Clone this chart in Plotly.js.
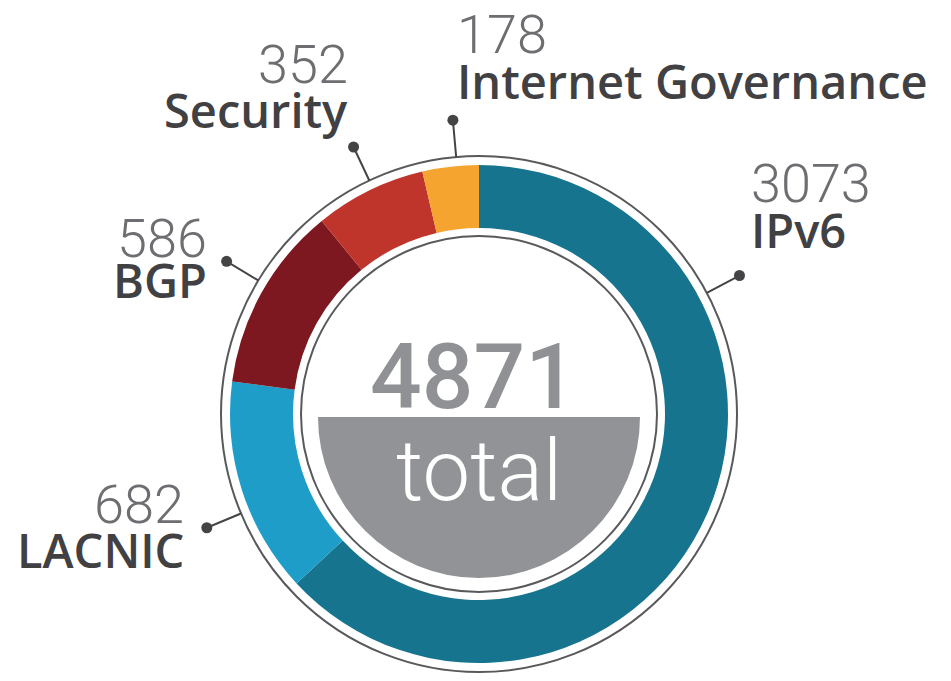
<!DOCTYPE html>
<html>
<head>
<meta charset="utf-8">
<script src="https://cdn.plot.ly/plotly-3.0.1.min.js"></script>
<style>html,body{margin:0;padding:0;background:#fff;}#chart{width:951px;height:681px;}</style>
</head>
<body>
<div id="chart"></div>
<script>
// ---- data ----
const categories = ['IPv6', 'LACNIC', 'BGP', 'Security', 'Internet Governance'];
const values = [3073, 682, 586, 352, 178];
const centerCaption = 'total';

// ---- style ----
const sliceColors = ['#17748f', '#1f9dc9', '#7e1820', '#c0352b', '#f5a430'];
const W = 951, H = 681;
const cx = 479, cy = 414;            // donut centre (px)
const rOuter = 249, rInner = 186;    // coloured ring
const rRingOut = 258, rRingIn = 178; // thin grey circles
const rHalf = 161, halfCy = 417;     // grey half disc
const rLeadStart = 258, rLeadEnd = 295;
const numFont = {family: 'Roboto, sans-serif', size: 54, color: '#6d6e71', weight: 300};
const labFont = {family: 'Open Sans, sans-serif', size: 47, color: '#414042', weight: 600};
// small angular nudges (deg) of the leader from the slice mid-angle
const leadNudge = [0, -5, 2, 1, 1.5];

// label placement per category: [x, numberY, labelY, side]
const labelPlace = [
  [749, 183, 230, 'left'],
  [186, 504, 550, 'right'],
  [209, 238, 280, 'right'],
  [350, 64, 110, 'right'],
  [455, 34, 81, 'left']
];

const total = values.reduce((a, b) => a + b, 0);

// leader angles (clockwise from 12 o'clock) from slice mid-angles
let cum = 0;
const leadX = [], leadY = [], dotX = [], dotY = [];
values.forEach((v, i) => {
  let a = (cum + v / 2) / total * 360 + leadNudge[i];
  if (v / total > 0.5) a = 62; // big slice: leader placed in its upper part
  cum += v;
  const rad = a * Math.PI / 180;
  const s = Math.sin(rad), c = Math.cos(rad);
  leadX.push(cx + rLeadStart * s, cx + rLeadEnd * s, null);
  leadY.push(cy - rLeadStart * c, cy - rLeadEnd * c, null);
  dotX.push(cx + rLeadEnd * s);
  dotY.push(cy - rLeadEnd * c);
});

const traces = [
  {
    type: 'pie', labels: categories, values: values, sort: false,
    direction: 'clockwise', rotation: 0, hole: rInner / rOuter,
    marker: {colors: sliceColors, line: {width: 0}},
    textinfo: 'none', hoverinfo: 'label+value',
    domain: {x: [(cx - rOuter) / W, (cx + rOuter) / W], y: [(H - cy - rOuter) / H, (H - cy + rOuter) / H]},
    showlegend: false
  },
  {
    type: 'pie', labels: ['fill', 'blank'], values: [1, 1], sort: false,
    direction: 'clockwise', rotation: 90,
    marker: {colors: ['#919396', 'rgba(0,0,0,0)'], line: {width: 0}},
    textinfo: 'none', hoverinfo: 'skip',
    domain: {x: [(cx - rHalf) / W, (cx + rHalf) / W], y: [(H - halfCy - rHalf) / H, (H - halfCy + rHalf) / H]},
    showlegend: false
  },
  {
    type: 'scatter', mode: 'lines', x: leadX, y: leadY,
    line: {color: '#444446', width: 2}, hoverinfo: 'skip', showlegend: false
  },
  {
    type: 'scatter', mode: 'markers', x: dotX, y: dotY,
    marker: {color: '#444446', size: 11}, hoverinfo: 'skip', showlegend: false
  }
];

const annotations = [];
categories.forEach((name, i) => {
  const p = labelPlace[i];
  annotations.push({
    xref: 'x', yref: 'y', x: p[0], y: p[1], text: String(values[i]),
    showarrow: false, xanchor: p[3], yanchor: 'middle', font: numFont
  });
  annotations.push({
    xref: 'x', yref: 'y', x: p[0], y: p[2], text: name,
    showarrow: false, xanchor: p[3], yanchor: 'middle', font: labFont
  });
});
annotations.push({
  xref: 'x', yref: 'y', x: 473, y: 377, text: String(total), showarrow: false,
  xanchor: 'center', yanchor: 'middle',
  font: {family: 'Roboto, sans-serif', size: 91, color: '#8f9194', weight: 500}
});
annotations.push({
  xref: 'x', yref: 'y', x: 479, y: 471, text: centerCaption, showarrow: false,
  xanchor: 'center', yanchor: 'middle',
  font: {family: 'Roboto, sans-serif', size: 85, color: '#ffffff', weight: 300}
});

const circle = r => ({
  type: 'circle', xref: 'x', yref: 'y', layer: 'below',
  x0: cx - r, x1: cx + r, y0: cy - r, y1: cy + r,
  line: {color: '#58595b', width: 2}, fillcolor: 'rgba(0,0,0,0)'
});

const layout = {
  width: W, height: H, margin: {l: 0, r: 0, t: 0, b: 0},
  paper_bgcolor: '#ffffff', plot_bgcolor: 'rgba(0,0,0,0)',
  showlegend: false,
  xaxis: {range: [0, W], visible: false, fixedrange: true},
  yaxis: {range: [H, 0], visible: false, fixedrange: true},
  shapes: [circle(rRingOut), circle(rRingIn)],
  annotations: annotations
};

Plotly.newPlot('chart', traces, layout, {displayModeBar: false, staticPlot: true});
</script>
</body>
</html>
